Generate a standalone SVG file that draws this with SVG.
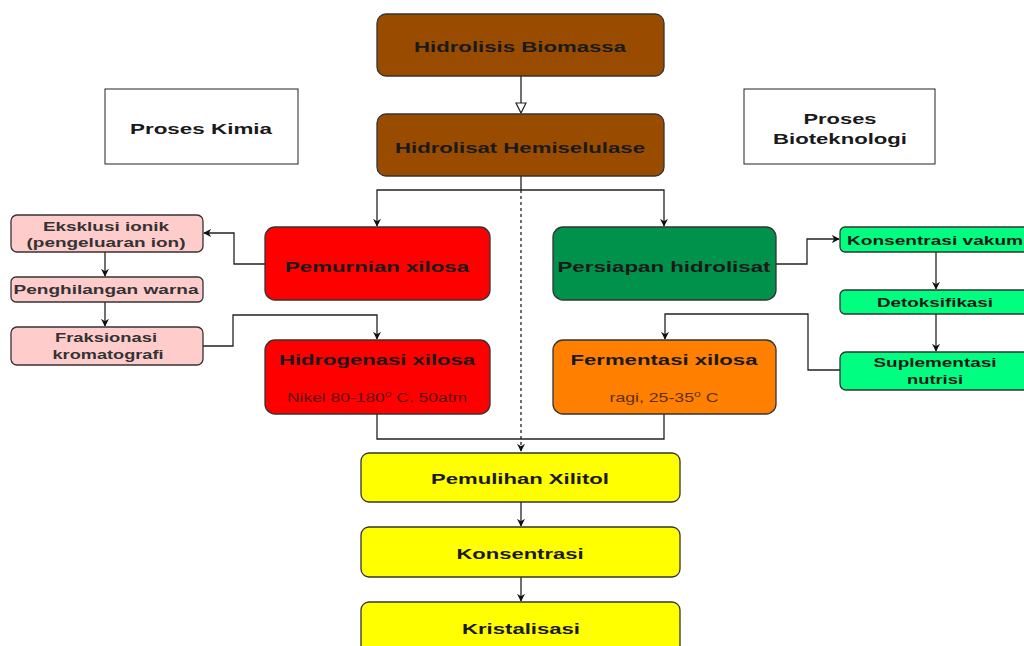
<svg xmlns="http://www.w3.org/2000/svg" width="1024" height="646" viewBox="0 0 1024 646">
<defs>
<style>
.b{stroke:#333;stroke-width:1.3}
.t{font-family:"Liberation Sans",Arial,sans-serif;font-weight:bold;fill:#1a1a1a;text-anchor:middle}
.p{fill:#333}
.s{font-family:"Liberation Sans",Arial,sans-serif;text-anchor:middle;font-size:13px}
.c{fill:none;stroke:#222;stroke-width:1.3}
</style>
<marker id="a" viewBox="0 0 10 10" refX="9" refY="5" markerWidth="8" markerHeight="8" markerUnits="userSpaceOnUse" orient="auto"><path d="M0,0L10,5L0,10L3,5Z" fill="#111"/></marker>
<marker id="h" viewBox="0 0 12 12" refX="11" refY="6" markerWidth="12" markerHeight="12" markerUnits="userSpaceOnUse" orient="auto"><path d="M1,1L11,6L1,11Z" fill="#fff" stroke="#222" stroke-width="1.2"/></marker>
</defs>
<rect width="1024" height="646" fill="#fff"/>
<g id="connectors">
<path class="c" d="M521,76V113" marker-end="url(#h)"/>
<path class="c" d="M521,176V190H377V226" marker-end="url(#a)"/>
<path class="c" d="M521,190H664V226" marker-end="url(#a)"/>
<path class="c" d="M521,190V451" stroke-dasharray="3,3" marker-end="url(#a)"/>
<path class="c" d="M377,413V439H664V413"/>
<path class="c" d="M521,502V526" marker-end="url(#a)"/>
<path class="c" d="M521,577V601" marker-end="url(#a)"/>
<path class="c" d="M265,264H234V233H204" marker-end="url(#a)"/>
<path class="c" d="M105,252V276" marker-end="url(#a)"/>
<path class="c" d="M105,302V326" marker-end="url(#a)"/>
<path class="c" d="M203,346H233V315H377V339" marker-end="url(#a)"/>
<path class="c" d="M776,264H807V239H839" marker-end="url(#a)"/>
<path class="c" d="M936,252V289" marker-end="url(#a)"/>
<path class="c" d="M936,314V351" marker-end="url(#a)"/>
<path class="c" d="M840,370H808V314H665V339" marker-end="url(#a)"/>
</g>
<g id="n-biomassa"><rect class="b" x="377" y="14" width="287" height="62" rx="9" fill="#994c00"/><text class="t" x="520" y="52" font-size="15" textLength="212" lengthAdjust="spacingAndGlyphs">Hidrolisis Biomassa</text></g>
<g id="n-hemiselulase"><rect class="b" x="377" y="114" width="287" height="62" rx="9" fill="#994c00"/><text class="t" x="520" y="153" font-size="15" textLength="250" lengthAdjust="spacingAndGlyphs">Hidrolisat Hemiselulase</text></g>
<g id="n-kimia"><rect x="105" y="89" width="193" height="75" fill="#fff" stroke="#222" stroke-width="1"/><text class="t" x="201" y="134" font-size="15" textLength="142" lengthAdjust="spacingAndGlyphs">Proses Kimia</text></g>
<g id="n-bioteknologi"><rect x="744" y="89" width="191" height="75" fill="#fff" stroke="#222" stroke-width="1"/><text class="t" x="840" y="124" font-size="15" textLength="73" lengthAdjust="spacingAndGlyphs">Proses</text><text class="t" x="840" y="144" font-size="15" textLength="134" lengthAdjust="spacingAndGlyphs">Bioteknologi</text></g>
<g id="n-pemurnian"><rect class="b" x="265" y="227" width="225" height="73" rx="10" fill="#ff0000"/><text class="t" x="377" y="272" font-size="15" textLength="184" lengthAdjust="spacingAndGlyphs">Pemurnian xilosa</text></g>
<g id="n-persiapan"><rect class="b" x="553" y="227" width="223" height="73" rx="10" fill="#00924a"/><text class="t" x="664" y="272" font-size="15" textLength="213" lengthAdjust="spacingAndGlyphs">Persiapan hidrolisat</text></g>
<g id="n-hidrogenasi"><rect class="b" x="265" y="340" width="225" height="74" rx="10" fill="#ff0000"/><text class="t" x="377" y="365" font-size="15" textLength="196" lengthAdjust="spacingAndGlyphs">Hidrogenasi xilosa</text><text class="s" x="377" y="402" fill="#5c1010" textLength="180" lengthAdjust="spacingAndGlyphs">Nikel 80-180<tspan dy="-5" font-size="9">o</tspan><tspan dy="5"> C, 50atm</tspan></text></g>
<g id="n-fermentasi"><rect class="b" x="553" y="340" width="223" height="74" rx="10" fill="#ff8000"/><text class="t" x="664" y="365" font-size="15" textLength="187" lengthAdjust="spacingAndGlyphs">Fermentasi xilosa</text><text class="s" x="664" y="402" fill="#5c3010" textLength="109" lengthAdjust="spacingAndGlyphs">ragi, 25-35<tspan dy="-5" font-size="9">o</tspan><tspan dy="5"> C</tspan></text></g>
<g id="n-eksklusi"><rect class="b" x="11" y="215" width="192" height="37" rx="6" fill="#ffcccc"/><text class="t p" x="106" y="231" font-size="13" textLength="126" lengthAdjust="spacingAndGlyphs">Eksklusi ionik</text><text class="t p" x="106" y="247" font-size="13" textLength="159" lengthAdjust="spacingAndGlyphs">(pengeluaran ion)</text></g>
<g id="n-penghilangan"><rect class="b" x="11" y="277" width="192" height="25" rx="5" fill="#ffcccc"/><text class="t p" x="106" y="294" font-size="13" textLength="185" lengthAdjust="spacingAndGlyphs">Penghilangan warna</text></g>
<g id="n-fraksionasi"><rect class="b" x="11" y="327" width="192" height="38" rx="6" fill="#ffcccc"/><text class="t p" x="106" y="342" font-size="13" textLength="102" lengthAdjust="spacingAndGlyphs">Fraksionasi</text><text class="t p" x="108" y="359" font-size="13" textLength="111" lengthAdjust="spacingAndGlyphs">kromatografi</text></g>
<g id="n-vakum"><rect class="b" x="840" y="227" width="190" height="25" rx="5" fill="#00ff80"/><text class="t" x="935" y="245" font-size="13" textLength="176" lengthAdjust="spacingAndGlyphs">Konsentrasi vakum</text></g>
<g id="n-detoksifikasi"><rect class="b" x="840" y="290" width="190" height="24" rx="5" fill="#00ff80"/><text class="t" x="935" y="307" font-size="13" textLength="116" lengthAdjust="spacingAndGlyphs">Detoksifikasi</text></g>
<g id="n-suplementasi"><rect class="b" x="840" y="352" width="190" height="38" rx="6" fill="#00ff80"/><text class="t" x="935" y="367" font-size="13" textLength="123" lengthAdjust="spacingAndGlyphs">Suplementasi</text><text class="t" x="935" y="384" font-size="13" textLength="56" lengthAdjust="spacingAndGlyphs">nutrisi</text></g>
<g id="n-pemulihan"><rect class="b" x="361" y="453" width="319" height="49" rx="8" fill="#ffff00"/><text class="t" x="520" y="484" font-size="15" textLength="178" lengthAdjust="spacingAndGlyphs">Pemulihan Xilitol</text></g>
<g id="n-konsentrasi"><rect class="b" x="361" y="527" width="319" height="50" rx="8" fill="#ffff00"/><text class="t" x="520" y="559" font-size="15" textLength="127" lengthAdjust="spacingAndGlyphs">Konsentrasi</text></g>
<g id="n-kristalisasi"><rect class="b" x="361" y="602" width="319" height="60" rx="8" fill="#ffff00"/><text class="t" x="521" y="634" font-size="15" textLength="118" lengthAdjust="spacingAndGlyphs">Kristalisasi</text></g>
</svg>
